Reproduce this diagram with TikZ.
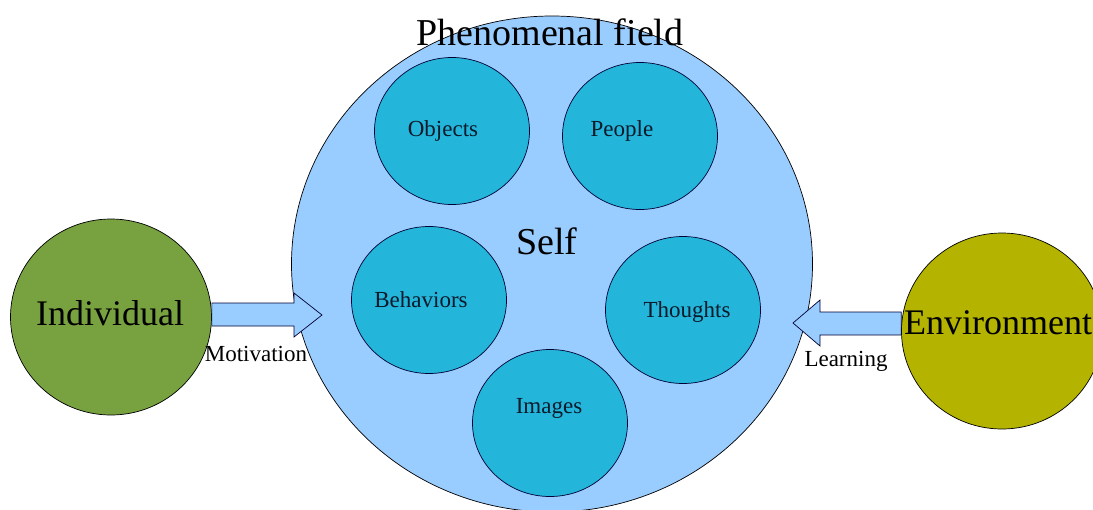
\documentclass[tikz,border=0pt]{standalone}
\usepackage{fontspec}
\setmainfont{Liberation Serif}
\usetikzlibrary{shapes.geometric}
\definecolor{fieldblue}{HTML}{99CCFF}
\definecolor{innerblue}{HTML}{23B5DA}
\definecolor{indgreen}{HTML}{78A240}
\definecolor{envolive}{HTML}{B3B300}
\definecolor{darktext}{HTML}{0A1A2A}
\tikzset{
  field/.style={draw=black, line width=0.7pt, fill=fieldblue, ellipse, inner sep=0pt},
  part/.style={draw=black!80!blue, line width=0.7pt, fill=innerblue, ellipse, inner sep=0pt, minimum width=155pt, minimum height=147pt},
  outer/.style={draw=black, line width=0.7pt, ellipse, inner sep=0pt, minimum width=201pt, minimum height=196pt},
  blockarrow/.style={draw=black!80!blue, line width=0.7pt, fill=fieldblue, line join=miter},
  small/.style={font=\fontsize{23}{23}\selectfont, text=darktext, inner sep=0pt},
  big/.style={font=\fontsize{36}{36}\selectfont, text=black, inner sep=0pt}
}
\begin{document}
\begin{tikzpicture}[x=1pt,y=-1pt]
\useasboundingbox (0,0) rectangle (1093,509);
\clip (0,0) rectangle (1093,509);
% phenomenal field
\node[field, minimum width=521pt, minimum height=496pt] (pf) at (552,264) {};
% parts
\node[part] (obj) at (452,131) {};
\node[part] (peo) at (640,136) {};
\node[part] (beh) at (429,300) {};
\node[part] (tho) at (683,310) {};
\node[part] (img) at (550,423) {};
\node[small] (tobj) at (443,131) {Objects};
\node[small] (tpeo) at (622,131) {People};
\node[small] (tbeh) at (421,300) {Behaviors};
\node[small] (ttho) at (687,312) {Thoughts};
\node[small] (timg) at (549,408) {Images};
\node[big, font=\fontsize{38}{38}\selectfont] (self) at (547,241) {Self};
% outer circles
\node[outer, fill=indgreen] (ind) at (111,317) {};
\node[outer, fill=envolive] (env) at (1002,331) {};
\node[big] (tind) at (110,313) {Individual};
\node[big] (tenv) at (998,323) {Environment};
% arrows
\coordinate (mtip) at (322,315);
\coordinate (ltip) at (793,323);
\draw[blockarrow] (ind.east |- 0,303) -- (294,303) -- (294,293) -- (mtip) -- (294,337) -- (294,326) -- (ind.east |- 0,326) -- cycle;
\draw[blockarrow] (env.west |- 0,312) -- (820,312) -- (820,300) -- (ltip) -- (820,346) -- (820,335) -- (env.west |- 0,335) -- cycle;
\node[small, text=black] (mot) at (256,354) {Motivation};
\node[small, text=black] (lea) at (846,361) {Learning};
% title
\node[big, font=\fontsize{38}{38}\selectfont] (title) at (550,32) {Phenomenal field};
\end{tikzpicture}
\end{document}
